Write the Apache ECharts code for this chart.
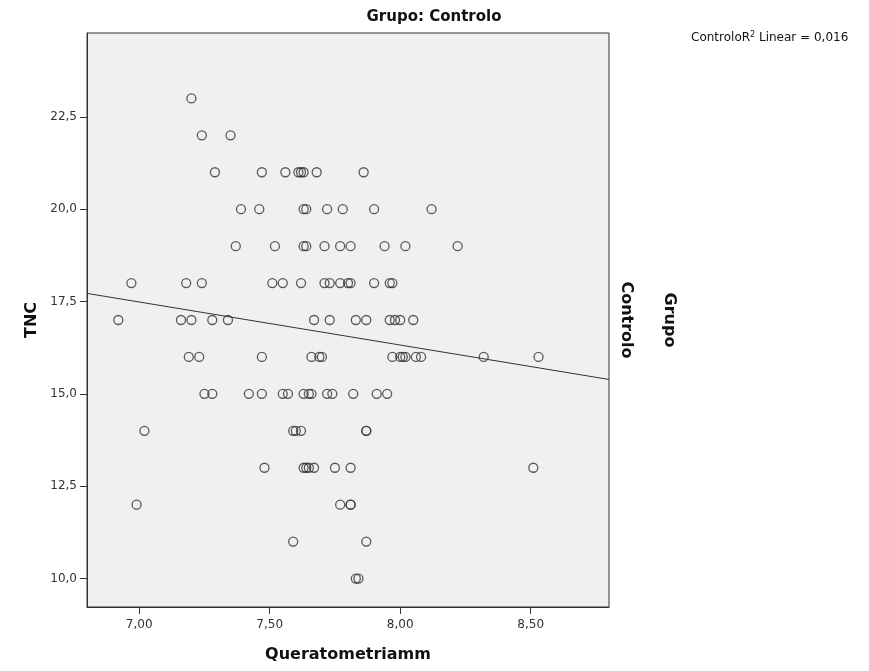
<!DOCTYPE html>
<html>
<head>
<meta charset="utf-8">
<script src="https://cdn.jsdelivr.net/npm/echarts@6/dist/echarts.min.js"></script>
<style>
html,body{margin:0;padding:0;background:#fff;}
#chart{width:869px;height:671px;}
</style>
</head>
<body>
<div id="chart"></div>
<script>
// Queratometria (mm) values and matching TNC values
const queratometria = [
  7.20,
  7.24, 7.35,
  7.29, 7.47, 7.56, 7.61, 7.62, 7.63, 7.68, 7.86,
  7.39, 7.46, 7.63, 7.64, 7.72, 7.78, 7.90, 8.12,
  7.37, 7.52, 7.63, 7.64, 7.71, 7.77, 7.81, 7.94, 8.02, 8.22,
  6.97, 7.18, 7.24, 7.51, 7.55, 7.62, 7.71, 7.73, 7.77, 7.80, 7.81, 7.90, 7.96, 7.97,
  6.92, 7.16, 7.20, 7.28, 7.34, 7.67, 7.73, 7.83, 7.87, 7.96, 7.98, 8.00, 8.05,
  7.19, 7.23, 7.47, 7.66, 7.69, 7.70, 7.97, 8.00, 8.01, 8.02, 8.06, 8.08, 8.32, 8.53,
  7.25, 7.28, 7.42, 7.47, 7.55, 7.57, 7.63, 7.65, 7.66, 7.72, 7.74, 7.82, 7.91, 7.95,
  7.02, 7.59, 7.60, 7.62, 7.87, 7.87,
  7.48, 7.63, 7.64, 7.65, 7.67, 7.75, 7.81, 8.51,
  6.99, 7.77, 7.81, 7.81,
  7.59, 7.87,
  7.83, 7.84
];
const tnc = [
  23,
  22, 22,
  21, 21, 21, 21, 21, 21, 21, 21,
  20, 20, 20, 20, 20, 20, 20, 20,
  19, 19, 19, 19, 19, 19, 19, 19, 19, 19,
  18, 18, 18, 18, 18, 18, 18, 18, 18, 18, 18, 18, 18, 18,
  17, 17, 17, 17, 17, 17, 17, 17, 17, 17, 17, 17, 17,
  16, 16, 16, 16, 16, 16, 16, 16, 16, 16, 16, 16, 16, 16,
  15, 15, 15, 15, 15, 15, 15, 15, 15, 15, 15, 15, 15, 15,
  14, 14, 14, 14, 14, 14,
  13, 13, 13, 13, 13, 13, 13, 13,
  12, 12, 12, 12,
  11, 11,
  10, 10
];
// Fit line (R2 linear) end points
const fitX = [6.80, 8.80];
const fitY = [17.72, 15.39];
// Tick labels
const xTicks = [7.00, 7.50, 8.00, 8.50];
const yTicks = [10.0, 12.5, 15.0, 17.5, 20.0, 22.5];

const points = queratometria.map((q, i) => [q, tnc[i]]);
const fitLine = fitX.map((x, i) => [x, fitY[i]]);

const chart = echarts.init(document.getElementById('chart'), null, {renderer: 'canvas'});
const boldFont = 'DejaVu Sans';
chart.setOption({
  animation: false,
  backgroundColor: '#ffffff',
  grid: {
    left: 87, top: 33, width: 522, height: 574,
    show: true, backgroundColor: '#f0f0f0', borderColor: '#333', borderWidth: 1
  },
  xAxis: {
    type: 'value', min: 6.80, max: 8.80,
    name: 'Queratometriamm', nameLocation: 'middle', nameGap: 40,
    nameTextStyle: {fontFamily: boldFont, fontWeight: 'bold', fontSize: 16, color: '#111'},
    splitLine: {show: false},
    axisLine: {show: true, lineStyle: {color: '#333', width: 1}},
    axisTick: {show: true, customValues: xTicks, length: 7, lineStyle: {color: '#333'}},
    axisLabel: {customValues: xTicks, margin: 12, fontFamily: 'DejaVu Sans', fontSize: 12, color: '#333',
      formatter: v => v.toFixed(2).replace('.', ',')}
  },
  yAxis: {
    type: 'value', min: 9.23, max: 24.77,
    name: 'TNC', nameLocation: 'middle', nameGap: 45, nameRotate: 90,
    nameTextStyle: {fontFamily: boldFont, fontWeight: 'bold', fontSize: 16, color: '#111'},
    splitLine: {show: false},
    axisLine: {show: true, lineStyle: {color: '#333', width: 1}},
    axisTick: {show: true, customValues: yTicks, length: 7, lineStyle: {color: '#333'}},
    axisLabel: {customValues: yTicks, margin: 10, fontFamily: 'DejaVu Sans', fontSize: 12, color: '#333',
      formatter: v => v.toFixed(1).replace('.', ',')}
  },
  series: [
    {
      type: 'line', data: fitLine, symbol: 'none', silent: true,
      lineStyle: {color: '#333', width: 1}, z: 3
    },
    {
      type: 'scatter', data: points, symbol: 'circle', symbolSize: 9,
      itemStyle: {color: 'rgba(0,0,0,0)', borderColor: '#333', borderWidth: 1.3}, z: 4
    }
  ],
  graphic: [
    {type: 'text', x: 434, y: 17, style: {text: 'Grupo: Controlo', fontFamily: boldFont, fontWeight: 'bold', fontSize: 15, fill: '#111', textAlign: 'center', textVerticalAlign: 'middle'}},
    {type: 'text', x: 691, y: 38, style: {
      text: '{a|ControloR}{s|2}{a| Linear = 0,016}',
      textVerticalAlign: 'middle',
      rich: {
        a: {fontFamily: 'DejaVu Sans', fontSize: 12, fill: '#111', color: '#111'},
        s: {fontFamily: 'DejaVu Sans', fontSize: 8, fill: '#111', color: '#111', padding: [0, 0, 7, 0]}
      }
    }},
    {type: 'text', x: 626, y: 320, rotation: -Math.PI / 2, style: {text: 'Controlo', fontFamily: boldFont, fontWeight: 'bold', fontSize: 16, fill: '#111', textAlign: 'center', textVerticalAlign: 'middle'}},
    {type: 'text', x: 669, y: 320, rotation: -Math.PI / 2, style: {text: 'Grupo', fontFamily: boldFont, fontWeight: 'bold', fontSize: 16, fill: '#111', textAlign: 'center', textVerticalAlign: 'middle'}}
  ]
});
</script>
</body>
</html>
